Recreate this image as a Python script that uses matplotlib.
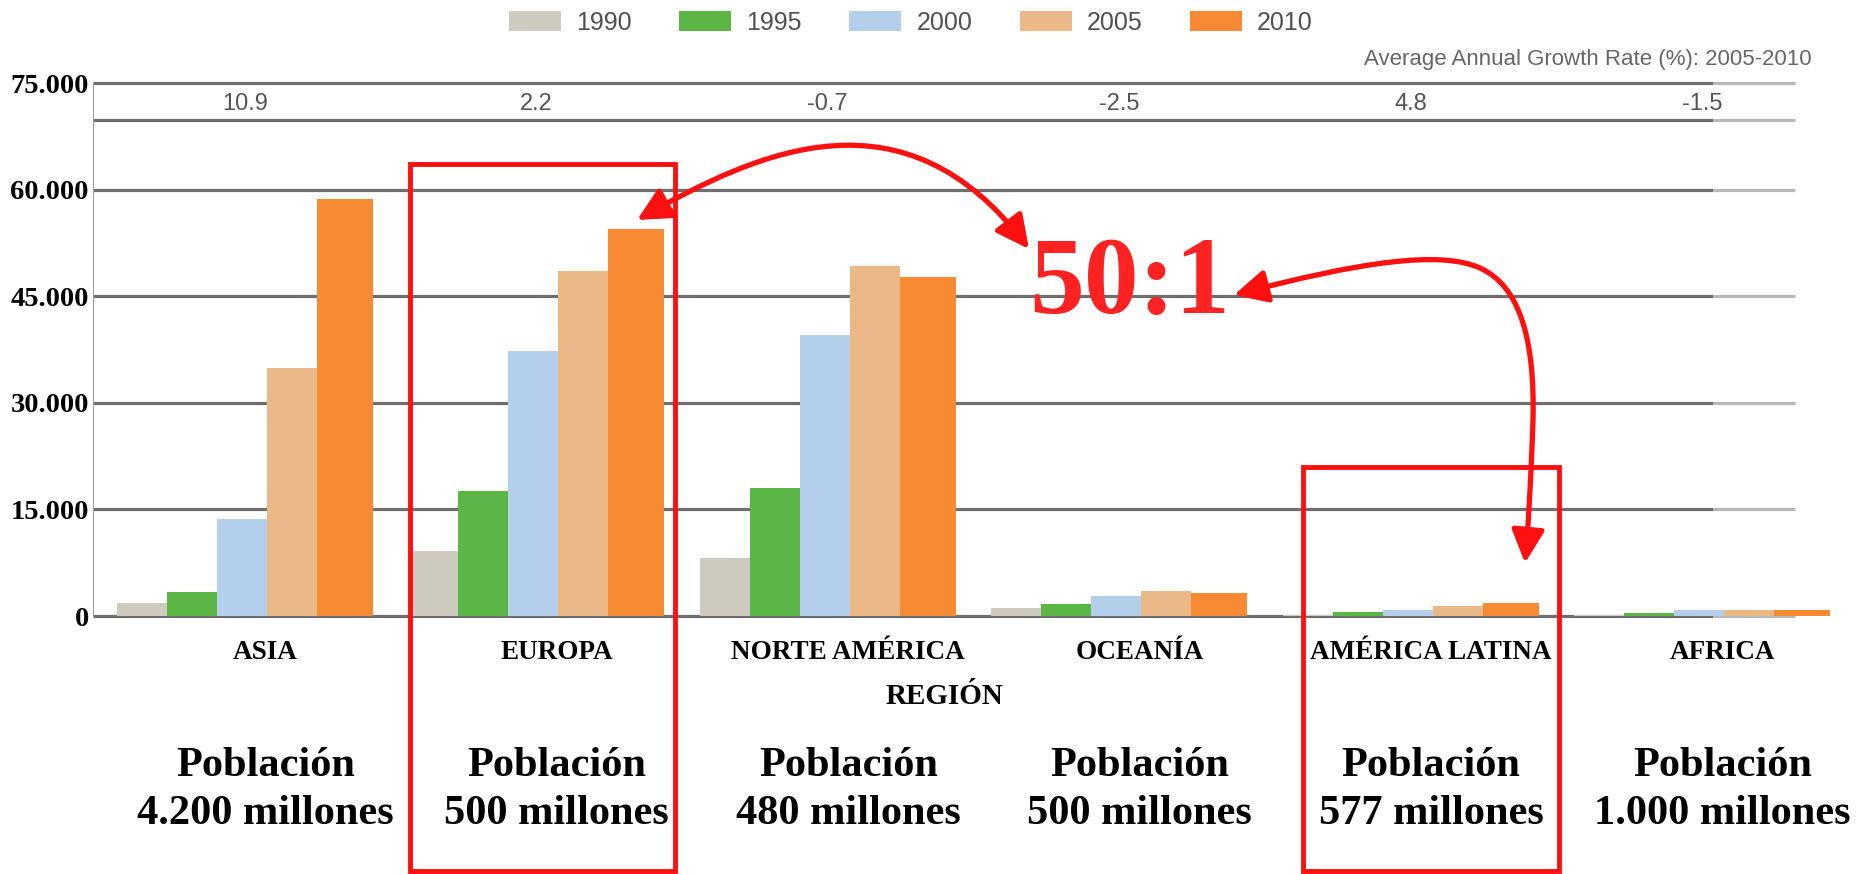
# plot.py
# Exportaciones por región (1990-2010) con anotaciones "50:1".

import matplotlib
matplotlib.use("Agg")
import matplotlib.pyplot as plt
import matplotlib.transforms as mtransforms
from matplotlib.patches import Rectangle, FancyArrowPatch
from matplotlib.path import Path

# ---------------------------------------------------------------------------
# Data
# ---------------------------------------------------------------------------

regions = ["ASIA", "EUROPA", "NORTE AMÉRICA", "OCEANÍA",
           "AMÉRICA LATINA", "AFRICA"]
years = ["1990", "1995", "2000", "2005", "2010"]

val_1990 = [1800, 9150, 8150, 1100, 200, 150]
val_1995 = [3400, 17600, 18000, 1650, 500, 380]
val_2000 = [13650, 37300, 39500, 2850, 850, 800]
val_2005 = [34900, 48550, 49250, 3550, 1450, 800]
val_2010 = [58700, 54450, 47700, 3200, 1870, 850]

growth_rate = ["10.9", "2.2", "-0.7", "-2.5", "4.8", "-1.5"]
population = ["4.200", "500", "480", "500", "577", "1.000"]

y_ticks = [0, 15000, 30000, 45000, 60000, 75000]
y_tick_labels = ["0", "15.000", "30.000", "45.000", "60.000", "75.000"]
band_line = 69800          # lower edge of the growth-rate strip

# ---------------------------------------------------------------------------
# Styles
# ---------------------------------------------------------------------------

colors = ["#cdcac0", "#5cb646", "#b3cfeb", "#eab987", "#f68b33"]
widths = [0.1716, 0.1716, 0.1716, 0.1716, 0.192]
grid_dark = "#6e6e6e"
grid_light = "#b8b8b8"
red = "#ff1010"

SERIF = "Liberation Serif"
SANS = "Liberation Sans"

W, H = 1868, 874
fig = plt.figure(figsize=(W / 100, H / 100), dpi=100)

# main axes, placed in pixels
ax_left, ax_right, ax_bottom, ax_top = 93, 1850, 616, 83.3
ax = fig.add_axes([ax_left / W, 1 - ax_bottom / H,
                   (ax_right - ax_left) / W, (ax_bottom - ax_top) / H])
ax.set_xlim(-0.0824, 5.947)
ax.set_ylim(0, 75000)

# --- bars ---
series = [val_1990, val_1995, val_2000, val_2005, val_2010]
handles = []
for j, vals in enumerate(series):
    offset = sum(widths[:j])
    xs = [i + offset for i in range(len(regions))]
    bars = ax.bar(xs, vals, width=widths[j], align="edge",
                  color=colors[j], zorder=2, label=years[j])
    handles.append(bars)

group_w = sum(widths)
centers = [i + group_w / 2 for i in range(len(regions))]

# --- grid lines (dark part, then faded tail) ---
lines_y = y_ticks + [band_line]
ax.hlines(lines_y, -0.0824, 5.477, colors=grid_dark, lw=2.3,
          zorder=0, clip_on=False)
ax.hlines(lines_y, 5.477, 5.758, colors=grid_light, lw=2.3,
          zorder=0, clip_on=False)

for side in ["top", "right", "bottom"]:
    ax.spines[side].set_visible(False)
ax.spines["left"].set_color("#a0a0a0")
ax.spines["left"].set_linewidth(0.8)

ax.set_yticks(y_ticks)
ax.set_yticklabels(y_tick_labels, fontfamily=SERIF, fontweight="bold",
                   fontsize=20.5)
ax.tick_params(axis="y", length=0, pad=3)

label_shift = 0.07
ax.set_xticks([c + label_shift for c in centers])
ax.set_xticklabels(regions, fontfamily=SERIF, fontweight="bold",
                   fontsize=19.5)
ax.tick_params(axis="x", length=0, pad=17)

ax.set_xlabel("REGIÓN", fontfamily=SERIF, fontweight="bold", fontsize=21)
ax.xaxis.set_label_coords((944 - ax_left) / (ax_right - ax_left), -0.126)

# growth-rate strip
for c, g in zip(centers, growth_rate):
    ax.text(c, 72100, g, ha="center", va="center", fontsize=17,
            family=SANS, color="#555555")

# population labels under each region (baseline of the second line)
blend = mtransforms.blended_transform_factory(ax.transData, ax.transAxes)
for c, p in zip(centers, population):
    ax.text(c + label_shift, -0.3905, f"Población\n{p} millones",
            transform=blend, ha="center", va="baseline",
            fontfamily=SERIF, fontweight="bold", fontsize=30.5,
            linespacing=1.36, clip_on=False)

# legend and strip title
fig.legend(handles=handles, labels=years, loc="center",
           bbox_to_anchor=(911 / W, 1 - 23 / H), ncol=5, frameon=False,
           prop={"family": SANS, "size": 18}, labelcolor="#505050",
           handlelength=2.08, handleheight=0.84, handletextpad=0.6,
           columnspacing=1.9)
fig.text(1812 / W, 1 - 60 / H, "Average Annual Growth Rate (%): 2005-2010",
         ha="right", va="center", fontsize=16, family=SANS,
         color="#666666")

# ---------------------------------------------------------------------------
# Red annotations on a pixel overlay
# ---------------------------------------------------------------------------

ov = fig.add_axes([0, 0, 1, 1])
ov.set_xlim(0, W)
ov.set_ylim(H, 0)
ov.axis("off")

ov.add_patch(Rectangle((410, 164), 265, 707, fill=False, ec=red, lw=3.5))
ov.add_patch(Rectangle((1303, 467), 256, 404, fill=False, ec=red, lw=3.5))

ov.text(1130, 313, "50:1", ha="center", va="baseline", color="#ff2222",
        fontfamily=SERIF, fontweight="bold", fontsize=79)

arrow_style = "<|-|>,head_length=1.0,head_width=0.5"
path1 = Path([(637, 220), (760, 150), (905, 85), (1029, 249)],
             [Path.MOVETO] + [Path.CURVE4] * 3)
path2 = Path([(1234, 295), (1360, 262), (1440, 250), (1480, 268),
              (1520, 286), (1535, 340), (1533, 420),
              (1531, 480), (1528, 530), (1525, 563)],
             [Path.MOVETO] + [Path.CURVE4] * 9)
for p in (path1, path2):
    ov.add_patch(FancyArrowPatch(path=p, arrowstyle=arrow_style,
                                 mutation_scale=20, color=red, lw=3.8,
                                 transform=ov.transData))

fig.savefig("out.png", dpi=100)
